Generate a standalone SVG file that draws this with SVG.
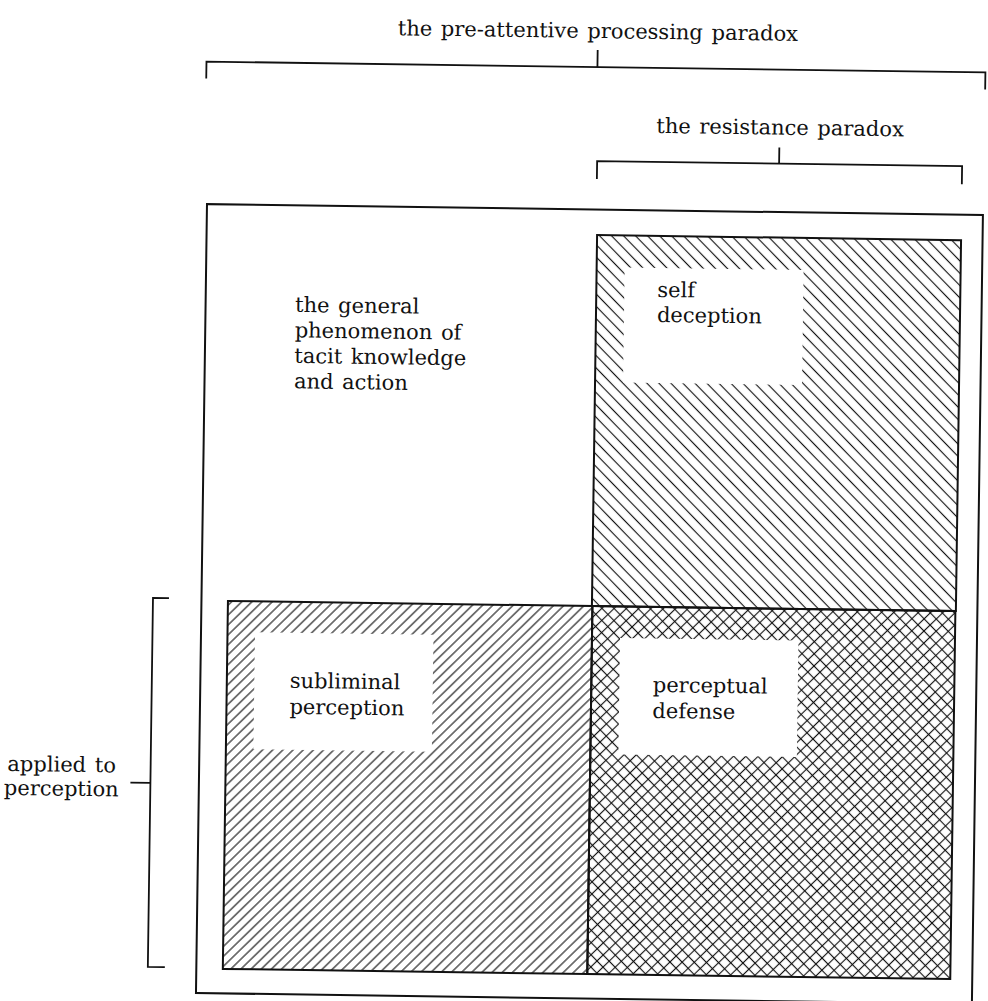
<svg xmlns="http://www.w3.org/2000/svg" width="988" height="1001" viewBox="0 0 988 1001">
<style>
  text { font-family: "DejaVu Serif", "Liberation Serif", serif; font-size: 21px; fill: #111; word-spacing: 2px; }
  .frame { fill: none; stroke: #111; stroke-width: 2; }
  .br { fill: none; stroke: #111; stroke-width: 1.8; }
  .blank { fill: #fff; stroke: none; }
</style>
<defs>
  <pattern id="back" width="8.6" height="8.6" patternUnits="userSpaceOnUse" patternTransform="rotate(-45)">
    <line x1="4.3" y1="0" x2="4.3" y2="8.6" stroke="#111" stroke-width="1.15"/>
  </pattern>
  <pattern id="fwd" width="7.1" height="7.1" patternUnits="userSpaceOnUse" patternTransform="rotate(45)">
    <line x1="3.55" y1="0" x2="3.55" y2="7.1" stroke="#111" stroke-width="1.1"/>
  </pattern>
  <pattern id="xa" width="8.6" height="8.6" patternUnits="userSpaceOnUse" patternTransform="rotate(45)">
    <line x1="4.3" y1="0" x2="4.3" y2="8.6" stroke="#111" stroke-width="1.15"/>
  </pattern>
</defs>
<rect width="988" height="1001" fill="#fff"/>
<g transform="rotate(0.8 590 600)">
  <g id="outer-box">
    <rect class="frame" x="201.5" y="209.5" width="776" height="789"/>
  </g>
  <g id="general">
    <text x="291" y="316">the general</text>
    <text x="291" y="341.5">phenomenon of</text>
    <text x="291" y="367">tacit knowledge</text>
    <text x="291" y="392.5">and action</text>
  </g>
  <g id="self-deception">
    <rect x="592" y="235" width="364" height="371" fill="url(#back)"/>
    <rect class="blank" x="620" y="267" width="179" height="115"/>
    <text x="653" y="296">self</text>
    <text x="653" y="321">deception</text>
    <rect class="frame" x="592" y="235" width="364" height="371"/>
  </g>
  <g id="subliminal-perception">
    <rect x="228" y="606" width="364.5" height="368" fill="url(#fwd)"/>
    <rect class="blank" x="255.5" y="637" width="178.5" height="117"/>
    <text x="291" y="692">subliminal</text>
    <text x="291" y="718">perception</text>
    <rect class="frame" x="228" y="606" width="364.5" height="368"/>
  </g>
  <g id="perceptual-defense">
    <rect x="592.5" y="606" width="363" height="368" fill="url(#back)"/>
    <rect x="592.5" y="606" width="363" height="368" fill="url(#xa)"/>
    <rect class="blank" x="620.5" y="637.5" width="178.5" height="116.5"/>
    <text x="654" y="691">perceptual</text>
    <text x="654" y="717">defense</text>
    <rect class="frame" x="592.5" y="606" width="363" height="368"/>
  </g>
  <g id="label-pre-attentive">
    <text x="590" y="38" text-anchor="middle">the pre-attentive processing paradox</text>
  </g>
  <g id="label-resistance">
    <text x="773.5" y="132" text-anchor="middle">the resistance paradox</text>
  </g>
  <g id="label-applied">
    <text x="64" y="779" text-anchor="middle">applied to</text>
    <text x="64" y="803" text-anchor="middle">perception</text>
  </g>
  <g id="connectors">
    <path class="br" d="M199 84 V67 H978 V84 M590 50 V67"/>
    <path class="br" d="M591 179 V161 H956 V179 M773 145 V161"/>
    <path class="br" d="M169 604 H153 V973 H170 M133 789 H153"/>
  </g>
</g>
</svg>
